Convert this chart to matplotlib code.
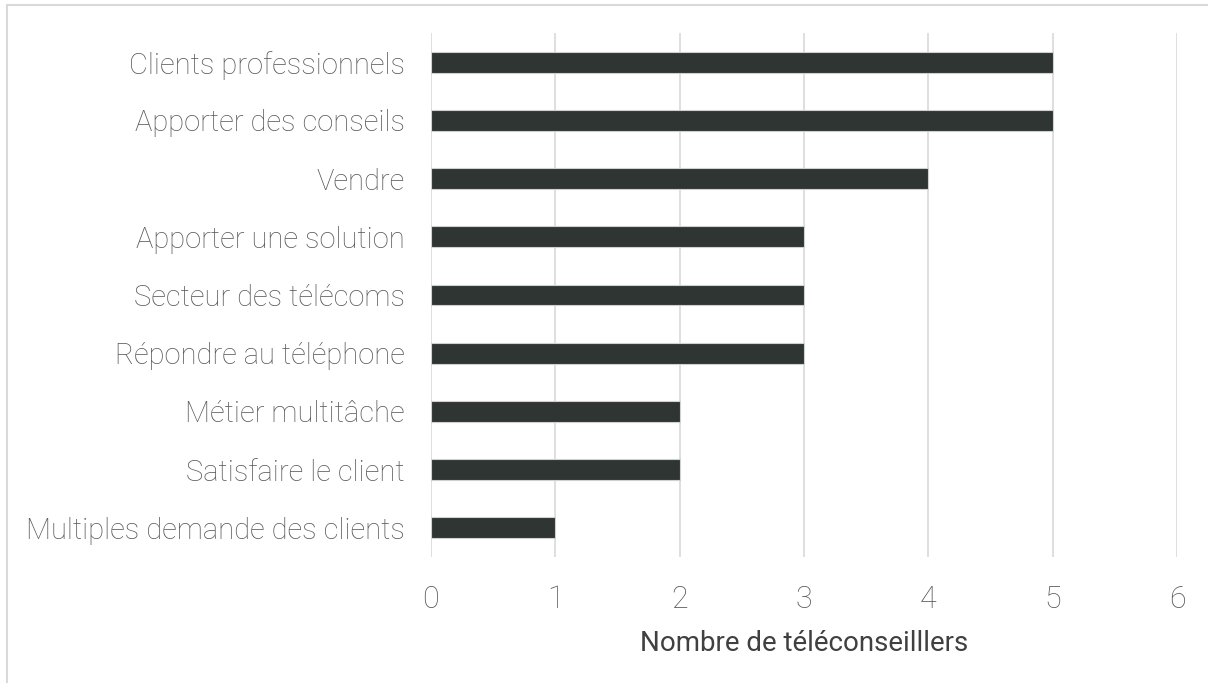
import matplotlib
matplotlib.use("Agg")
import matplotlib.pyplot as plt
from matplotlib.patches import Rectangle

categories = [
    "Clients professionnels",
    "Apporter des conseils",
    "Vendre",
    "Apporter une solution",
    "Secteur des télécoms",
    "Répondre au téléphone",
    "Métier multitâche",
    "Satisfaire le client",
    "Multiples demande des clients",
]
values = [5, 5, 4, 3, 3, 3, 2, 2, 1]
xticks = [0, 1, 2, 3, 4, 5, 6]
xlabel = "Nombre de téléconseilllers"

plt.rcParams['font.family'] = ['Roboto', 'DejaVu Sans']

W, H = 1208, 683
fig = plt.figure(figsize=(W / 100, H / 100), dpi=100)
ax = fig.add_axes([431 / W, 1 - 557 / H, (1177 - 431) / W, (557 - 33) / H])

ypos = list(range(len(categories)))
ax.barh(ypos, values, height=0.36, color="#2e3532", edgecolor="#d0d0d0", linewidth=0.8, zorder=3)
ax.set_ylim(len(categories) - 0.5, -0.5)
ax.set_xlim(0, 6)
ax.set_yticks(ypos)
ax.set_yticklabels(categories, fontsize=21, color="#595959", fontweight="light")
ax.set_xticks(xticks)
ax.set_xticklabels([str(t) for t in xticks], fontsize=22, color="#595959", fontweight="light")
ax.tick_params(axis="both", length=0)
ax.tick_params(axis="y", pad=19)
ax.tick_params(axis="x", pad=20)
ax.xaxis.grid(True, color="#d9d9d9", linewidth=1.2, zorder=0)
for s in ax.spines.values():
    s.set_visible(False)
ax.set_xlabel(xlabel, fontsize=20, color="#404040", labelpad=12)

fig.patches.append(Rectangle((7 / W, -0.1), 1.2, 1 - 5 / H + 0.1, transform=fig.transFigure,
                             fill=False, edgecolor="#d9d9d9", linewidth=1.5, zorder=0))

fig.savefig("out.png", dpi=100)
